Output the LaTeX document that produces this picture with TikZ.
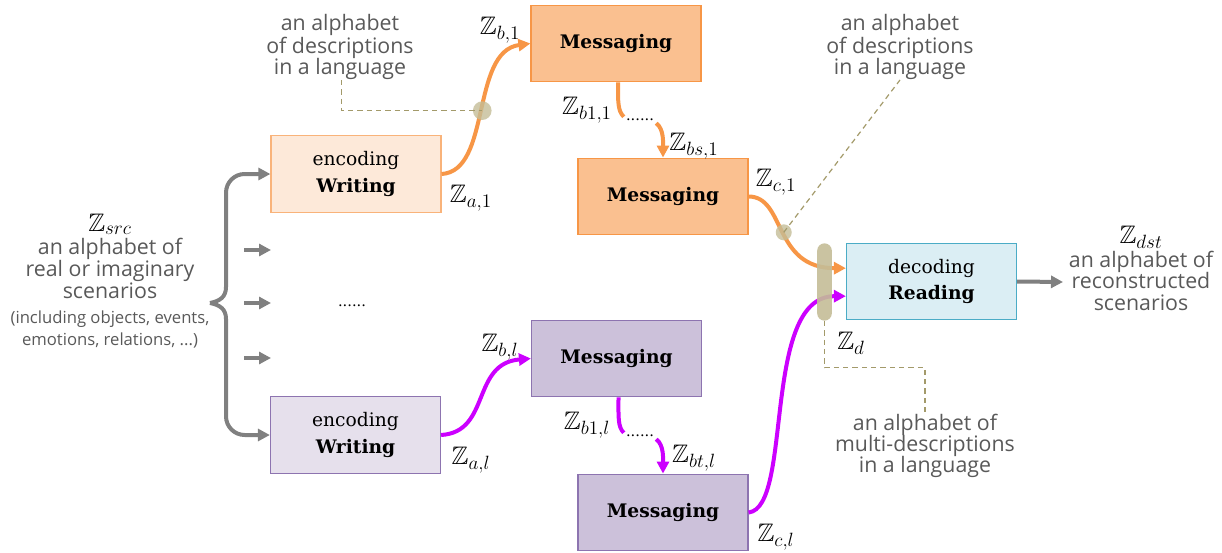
\documentclass[tikz,border=0pt]{standalone}
\usepackage{amssymb}
\usepackage{fontspec}
\setmainfont{DejaVu Serif}
\newfontfamily\labfont{Open Sans}
\usetikzlibrary{arrows.meta,calc}
\definecolor{orline}{HTML}{F79646}
\definecolor{orfillA}{HTML}{FDE9D9}
\definecolor{orbordA}{HTML}{F9B37A}
\definecolor{orfillB}{HTML}{FAC090}
\definecolor{puline}{HTML}{CC00FF}
\definecolor{pufillA}{HTML}{E6E0EC}
\definecolor{pufillB}{HTML}{CCC1DA}
\definecolor{puBord}{HTML}{8D74B0}
\definecolor{rdfill}{HTML}{DBEEF4}
\definecolor{rdbord}{HTML}{4BACC6}
\definecolor{grayline}{HTML}{808080}
\definecolor{labgray}{HTML}{595959}
\definecolor{tan}{HTML}{C4BD97}
\definecolor{dashcol}{HTML}{A39A6A}
\tikzset{
  box/.style={draw, line width=0.9pt, minimum width=127.5pt, minimum height=57.5pt, inner sep=0pt, align=center, font=\fontsize{14}{17}\selectfont},
  wboxA/.style={box, fill=orfillA, draw=orbordA},
  mboxA/.style={box, fill=orfillB, draw=orline},
  wboxB/.style={box, fill=pufillA, draw=puBord},
  mboxB/.style={box, fill=pufillB, draw=puBord},
  rbox/.style={box, fill=rdfill, draw=rdbord},
  oarrow/.style={draw=orline, line width=3pt, -{Triangle[length=9pt,width=9pt]}},
  oline/.style={draw=orline, line width=3pt},
  parrow/.style={draw=puline, line width=3pt, -{Triangle[length=9pt,width=9pt]}},
  pline/.style={draw=puline, line width=3pt},
  garrow/.style={draw=grayline, line width=3pt, -{Triangle[length=9pt,width=9pt]}},
  dashln/.style={draw=dashcol, line width=0.9pt, dash pattern=on 4pt off 3pt},
  lab/.style={text=labgray, align=center, font=\labfont\fontsize{16}{16}\selectfont, inner sep=0pt},
  mlab/.style={font=\fontsize{19}{19}\selectfont, inner sep=0pt},
  dots/.style={font=\fontsize{11}{11}\selectfont, inner sep=1.5pt},
  dotc/.style={circle, fill=tan, fill opacity=0.8, minimum size=14pt, inner sep=0pt},
}
\newcommand{\bigZ}[1]{{\color{black}\fontsize{19}{19}\selectfont$\mathbb{Z}_{#1}$}}
\begin{document}
\begin{tikzpicture}[x=0.75pt,y=-0.75pt]
\useasboundingbox (0,0) rectangle (1222,553);
% boxes
\node[wboxA] (w1) at (356,174) {encoding\\[3pt]{\bfseries Writing}};
\node[mboxA] (m1) at (616,43.5) {\bfseries Messaging};
\node[mboxA] (m2) at (663,196.5) {\bfseries Messaging};
\node[wboxB] (w2) at (355.5,435) {encoding\\[3pt]{\bfseries Writing}};
\node[mboxB] (m3) at (616.5,358.5) {\bfseries Messaging};
\node[mboxB] (m4) at (663,512.5) {\bfseries Messaging};
\node[rbox] (rd) at (931.5,281.5) {decoding\\[3pt]{\bfseries Reading}};
% dots between messaging
\node[dots] (d1) at (640,120) {......};
\node[dots] (d2) at (640,436) {......};
\node[dots, inner sep=0pt] (d3) at (352,306) {......};
% labels
\node[lab] (l1) at (340,47) {an alphabet\\of descriptions\\in a language};
\node[lab] (l2) at (900,47) {an alphabet\\of descriptions\\in a language};
\node[lab] (l3) at (925,446) {an alphabet of\\multi-descriptions\\in a language};
\node[lab, font=\labfont\fontsize{16}{16.5}\selectfont] (src) at (110,281) {\bigZ{src}\\[1pt]an alphabet of\\real or imaginary\\scenarios\\[2pt]{\fontsize{12.5}{15}\selectfont (including objects, events,}\\{\fontsize{12.5}{15}\selectfont emotions, relations, ...)}};
\node[lab] (dst) at (1141,268) {\bigZ{dst}\\[1pt]an alphabet of\\reconstructed\\scenarios};
% math labels
\node[mlab] at (500,30) {$\mathbb{Z}_{b,1}$};
\node[mlab] at (471,198) {$\mathbb{Z}_{a,1}$};
\node[mlab] at (587,110) {$\mathbb{Z}_{b1,1}$};
\node[mlab] at (694,146) {$\mathbb{Z}_{bs,1}$};
\node[mlab] at (776,182) {$\mathbb{Z}_{c,1}$};
\node[mlab] at (851,343) {$\mathbb{Z}_{d}$};
\node[mlab] at (500,347) {$\mathbb{Z}_{b,l}$};
\node[mlab] at (471,460) {$\mathbb{Z}_{a,l}$};
\node[mlab] at (587,425) {$\mathbb{Z}_{b1,l}$};
\node[mlab] at (694,458) {$\mathbb{Z}_{bt,l}$};
\node[mlab] at (776,537) {$\mathbb{Z}_{c,l}$};
% orange flow
\draw[oarrow] (w1.east) .. controls +(50,-3) and +(-60,8) .. coordinate[pos=0.5] (c1) (m1.west);
\draw[oline] ([xshift=1.5pt]m1.south) .. controls +(0,20) and +(-6,-6) .. (d1.north west);
\draw[oarrow] (d1.south east) .. controls +(8,6) and +(0,-14) .. (m2.north);
\draw[oarrow] (m2.east) .. controls +(37,0) and +(-73,0) .. coordinate[pos=0.5] (c2) ([yshift=10pt]rd.west);
% purple flow
\draw[parrow] (w2.east) .. controls +(50,-3) and +(-60,5) .. (m3.west);
\draw[pline] ([xshift=1.5pt]m3.south) .. controls +(0,20) and +(-6,-6) .. (d2.north west);
\draw[parrow] (d2.south east) .. controls +(8,6) and +(0,-14) .. (m4.north);
\draw[parrow] (m4.east) .. controls +(45,-5) and +(-85,0) .. ([yshift=-11pt]rd.west);
% collector bar
\node[draw=none, fill=tan, fill opacity=0.9, rounded corners=5.5pt, minimum width=11pt, minimum height=58pt, inner sep=0pt] (bar) at (824.5,282) {};
% dots on curves
\node[dotc] (k1) at (c1) {};
\node[dotc, minimum size=12pt] (k2) at (c2) {};
% dashed pointers
\draw[dashln] ([xshift=1pt]l1.south) |- (k1.center);
\draw[dashln] (k2.center) -- (l2.south);
\draw[dashln] (bar.south) |- ($(l3.north)+(0,-46)$) -- (l3.north);
% gray source arrows
\coordinate (br) at (210,303);
\draw[garrow] (br) .. controls (220,301) and (226,297) .. (226,287) [rounded corners=14pt] -- (226,174) -- (w1.west);
\draw[garrow] (br) .. controls (220,305) and (226,309) .. (226,319) [rounded corners=14pt] -- (226,435) -- (w2.west);
\coordinate (s1) at (244,250); \coordinate (e1) at (271,250);
\coordinate (s2) at (244,303); \coordinate (e2) at (271,303);
\coordinate (s3) at (244,358); \coordinate (e3) at (271,358);
\draw[garrow] (s1) -- (e1);
\draw[garrow] (s2) -- (e2);
\draw[garrow] (s3) -- (e3);
\coordinate (out) at (1063,282);
\draw[garrow] (rd.east) -- (out);
\end{tikzpicture}
\end{document}
